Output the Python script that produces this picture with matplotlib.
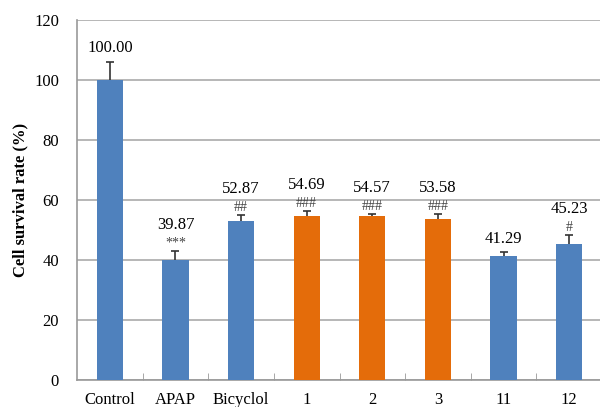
import numpy as np
from matplotlib import pyplot as plt

groups = ["Control", "APAP", "Bicyclol", "1", "2", "3", "11", "12"]
survival = [100.00, 39.87, 52.87, 54.69, 54.57, 53.58, 41.29, 45.23]
errors = [6.0, 3.2, 2.1, 1.6, 0.7, 1.6, 1.3, 3.1]
marks = ["", "***", "##", "###", "###", "###", "", "#"]
highlight = [False, False, False, True, True, True, False, False]

BLUE = "#4F81BD"
ORANGE = "#E46C0A"


def main():
    plt.rcParams["font.family"] = ["Liberation Serif", "DejaVu Serif"]

    fig = plt.figure(figsize=(6.0, 4.07), dpi=100)
    ax = fig.add_axes([77 / 600, 27 / 407, 525 / 600, 360 / 407])

    x = np.arange(len(groups))
    colors = [ORANGE if h else BLUE for h in highlight]
    ax.bar(x, survival, width=0.4, color=colors, zorder=3)

    # upper error only: hide the lower cap line
    eb = ax.errorbar(x, survival, yerr=[np.zeros(len(errors)), errors],
                     fmt="none", ecolor="#333333", elinewidth=1.2, capsize=3,
                     capthick=1.2, zorder=2)
    eb[1][0].set_visible(False)

    for xi, v, e, m in zip(x, survival, errors, marks):
        top = v + e
        if m:
            ax.annotate(m, (xi, top), xytext=(0, 1), textcoords="offset points",
                        ha="center", va="bottom", fontsize=10, color="#444444")
            ax.annotate(f"{v:.2f}", (xi, top), xytext=(0, 13),
                        textcoords="offset points", ha="center", va="bottom",
                        fontsize=12)
        else:
            ax.annotate(f"{v:.2f}", (xi, top), xytext=(0, 4),
                        textcoords="offset points", ha="center", va="bottom",
                        fontsize=12)

    ax.set_xlim(-0.5, len(groups) - 0.5)
    ax.set_ylim(0, 120)
    ax.set_yticks(np.arange(0, 121, 20))
    ax.set_xticks(x)
    ax.set_xticklabels(groups, fontsize=12)
    ax.set_xticks(np.arange(0.5, len(groups) - 0.5, 1), minor=True)
    ax.tick_params(axis="x", which="major", length=0, pad=9)
    ax.tick_params(axis="x", which="minor", direction="in", length=5,
                   color="#999999")
    ax.tick_params(axis="y", length=0, labelsize=12, pad=13)

    ax.yaxis.grid(True, color="#AAAAAA", linewidth=1.2, zorder=0)
    ax.set_axisbelow(True)
    for side in ["top", "right"]:
        ax.spines[side].set_visible(False)
    for side in ["left", "bottom"]:
        ax.spines[side].set_color("#999999")
        ax.spines[side].set_linewidth(1.2)

    ax.set_ylabel("Cell survival rate (%)", fontsize=12, fontweight="bold",
                  labelpad=4)

    fig.savefig("out.png", dpi=100)


if __name__ == "__main__":
    main()
